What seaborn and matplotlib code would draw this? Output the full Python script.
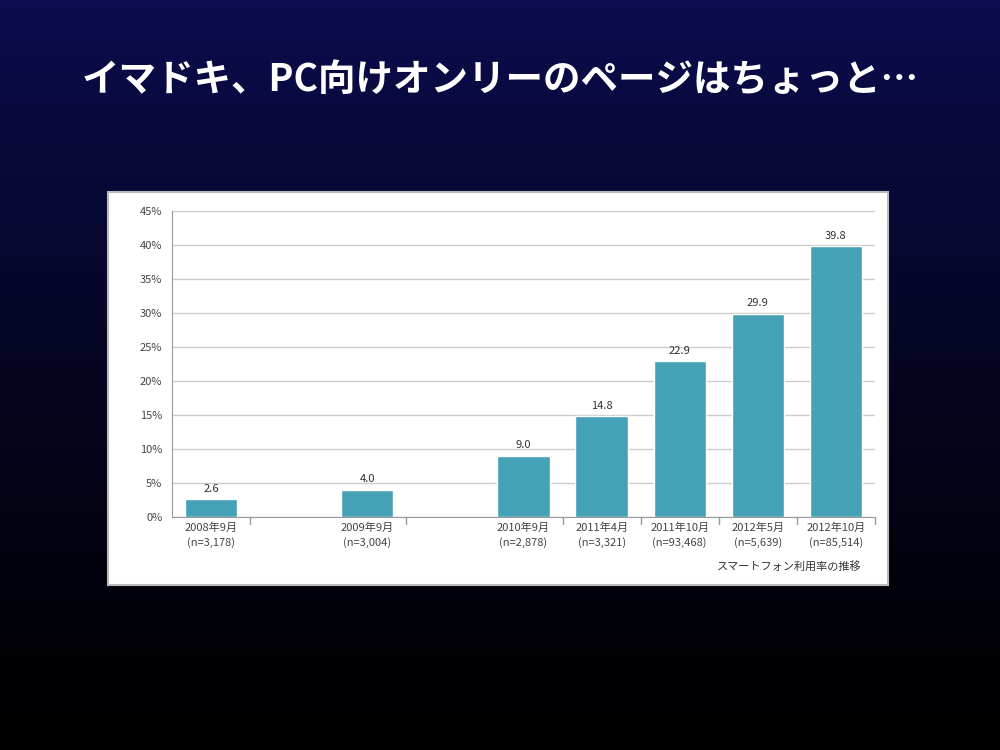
import numpy as np
import pandas as pd
import matplotlib
matplotlib.use("Agg")
import matplotlib.pyplot as plt
import seaborn as sns
from matplotlib.patches import Rectangle

sns.set_style("white")
plt.rcParams['font.family'] = ['Noto Sans CJK JP', 'DejaVu Sans']

periods = ["2008年9月", "2009年9月", "2010年9月", "2011年4月", "2011年10月", "2012年5月", "2012年10月"]
samples = ["(n=3,178)", "(n=3,004)", "(n=2,878)", "(n=3,321)", "(n=93,468)", "(n=5,639)", "(n=85,514)"]
rates = [2.6, 4.0, 9.0, 14.8, 22.9, 29.9, 39.8]
order = ["2008年9月", "gap1", "2009年9月", "gap2", "2010年9月", "2011年4月", "2011年10月", "2012年5月", "2012年10月"]
title = "イマドキ、PC向けオンリーのページはちょっと…"
caption = "スマートフォン利用率の推移"

df = pd.DataFrame({"period": periods, "rate": rates})
labels = {p: f"{p}\n{s}" for p, s in zip(periods, samples)}

fig = plt.figure(figsize=(10, 7.5), dpi=100)
bg = fig.add_axes([0, 0, 1, 1])
grad = np.linspace(0, 1, 256)[:, None]
top = np.array([12, 12, 78]) / 255
bot = np.array([0, 0, 0]) / 255
img = top[None, None, :] * (1 - grad[:, :, None]) ** 1.2 + bot[None, None, :] * (1 - (1 - grad[:, :, None]) ** 1.2)
bg.imshow(img, aspect="auto", extent=[0, 1, 0, 1])
bg.set_axis_off()
bg.add_patch(Rectangle((0.108, 1 - 0.585 / 0.75), 0.780, (0.585 - 0.192) / 0.75,
                       facecolor="white", edgecolor="#bbbbbb", lw=1.5))
fig.text(0.5, 1 - 80 / 750, title, color="white", fontsize=27, fontweight="bold",
         ha="center", va="center")

ax = fig.add_axes([0.172, 1 - 517 / 750, 0.703, (517 - 211) / 750])
sns.barplot(data=df, x="period", y="rate", order=order, color="#45a2b6",
            width=0.67, saturation=1, ax=ax)
ax.set_facecolor("white")
ax.set_ylim(0, 45)
ax.set_yticks(range(0, 46, 5))
ax.set_yticklabels([f"{v}%" for v in range(0, 46, 5)], fontsize=8, color="#444444")
ax.yaxis.grid(True, color="#cccccc", lw=1)
ax.set_axisbelow(True)
ax.set_xlabel("")
ax.set_ylabel("")
ax.set_xticks(range(len(order)))
ax.set_xticklabels([labels.get(o, "") for o in order], fontsize=8, color="#444444", linespacing=1.5)
ax.tick_params(axis="x", length=0, pad=4)
for s in ["top", "right"]:
    ax.spines[s].set_visible(False)
ax.spines["left"].set_color("#999999")
ax.spines["bottom"].set_color("#999999")
ax.set_xlim(-0.5, len(order) - 0.5)
for b in [0.5, 2.5, 4.5, 5.5, 6.5, 7.5, 8.5]:
    ax.plot([b, b], [0, -1.0], color="#999999", lw=1, clip_on=False)
for c in ax.containers:
    ax.bar_label(c, labels=[f"{v:.1f}" if not np.isnan(v) else "" for v in c.datavalues],
                 padding=4, fontsize=8, color="#333333")
fig.text(0.862, 1 - 566 / 750, caption, fontsize=8, color="#333333", ha="right", va="center")
fig.savefig("out.png", dpi=100)
